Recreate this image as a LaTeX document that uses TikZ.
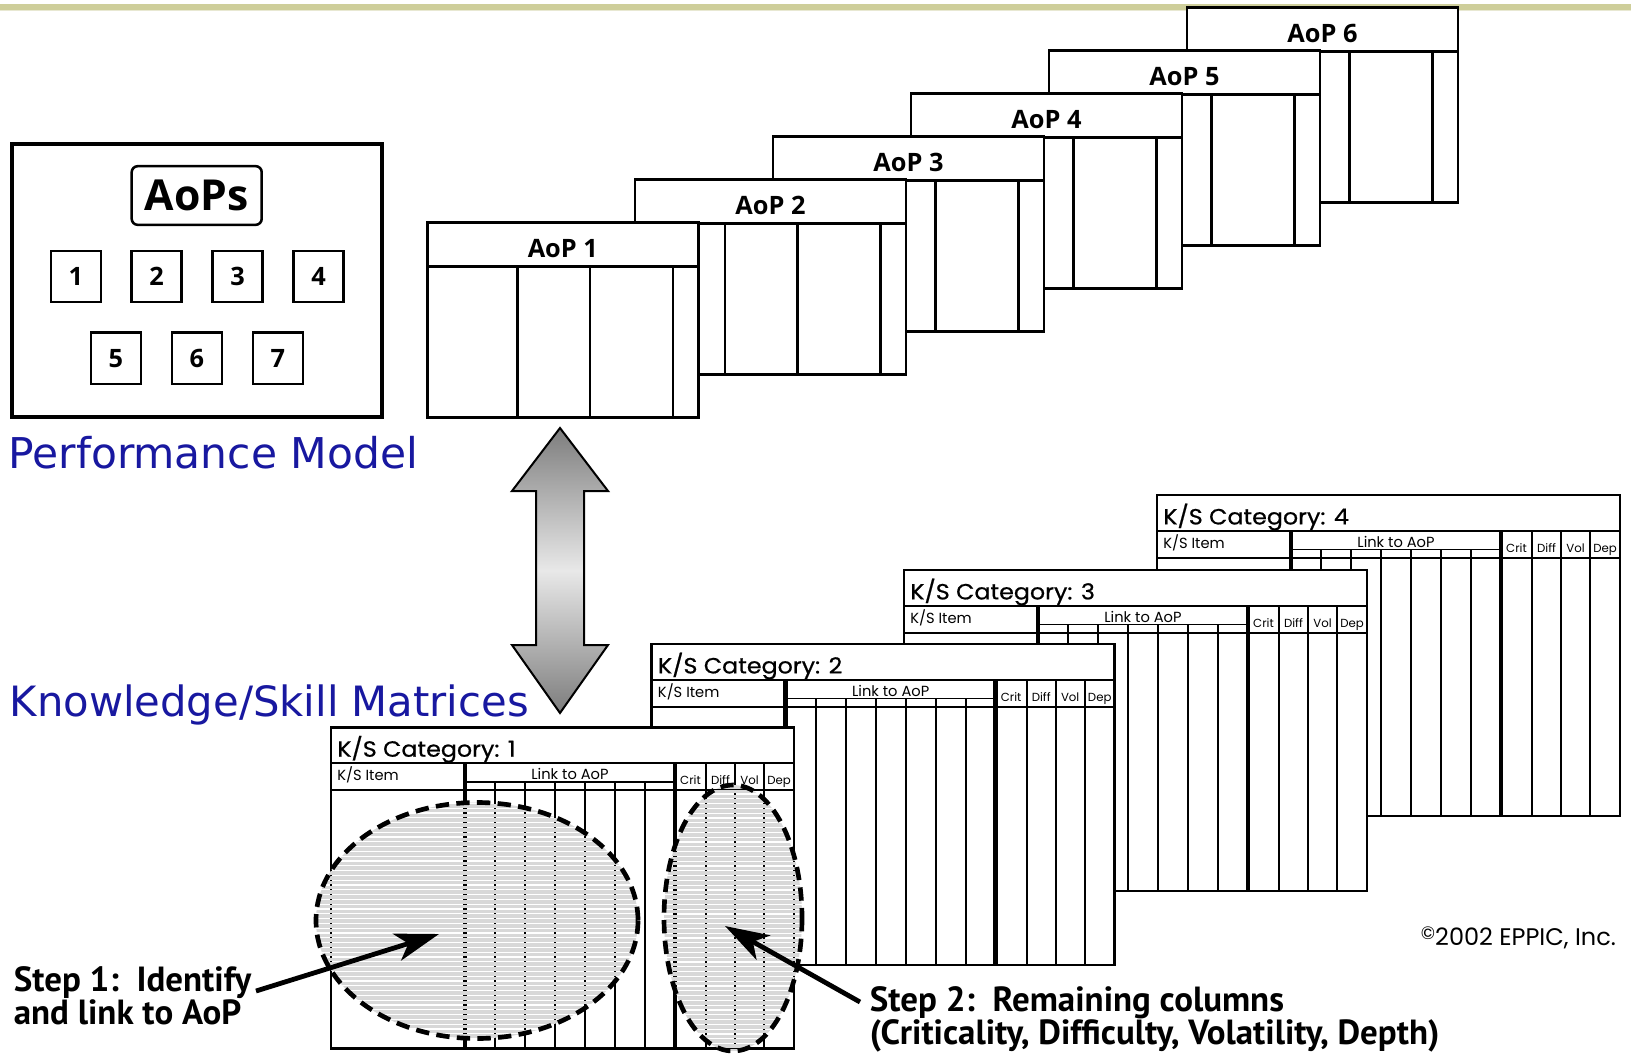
\documentclass[tikz,border=0pt]{standalone}
\usepackage{fontspec}
\setmainfont{Open Sans}
\newfontfamily\headfont{DejaVu Sans}
\newfontfamily\gridfont{Poppins}
\newfontfamily\gridtitlefont{Poppins}[FakeBold=0.7]
\newfontfamily\stepfont{PT Sans}
\usetikzlibrary{arrows.meta}

\definecolor{barolive}{RGB}{206,206,154}
\definecolor{barlight}{RGB}{232,232,210}
\definecolor{titleblue}{RGB}{24,24,160}
\definecolor{stripegray}{RGB}{216,216,216}
\definecolor{arrowdark}{RGB}{125,125,125}
\definecolor{arrowlight}{RGB}{232,232,232}

\tikzset{
  aopbox/.style={draw, fill=white, line width=2.2pt},
  aoprule/.style={line width=1.8pt},
  aoplabel/.style={inner sep=0pt, font=\bfseries\fontsize{19}{19}\selectfont},
  numbox/.style={draw, line width=1.8pt, minimum width=37.5pt, minimum height=38.5pt,
                 inner sep=0pt, font=\bfseries\fontsize{19}{19}\selectfont},
  gridframe/.style={line width=1.9pt},
  gridthin/.style={line width=1.4pt},
  gridthick/.style={line width=3.4pt},
  gridtitle/.style={inner sep=0pt, anchor=base west, font=\gridtitlefont\fontsize{16.5}{16.5}\selectfont},
  gridhead/.style={inner sep=0pt, font=\gridfont\fontsize{11}{11}\selectfont},
  gridsmall/.style={inner sep=0pt, anchor=base, font=\gridfont\fontsize{8.8}{8.8}\selectfont},
  bluetitle/.style={inner sep=0pt, anchor=base west, text=titleblue,
                    font=\headfont\fontsize{31.8}{31.8}\selectfont},
  steptext/.style={inner sep=0pt, anchor=base west, font=\stepfont\bfseries\fontsize{26.2}{26.2}\selectfont},
  stripe/.style={stripegray, line width=2.6pt},
  dashring/.style={line width=3.5pt, dash pattern=on 10pt off 5.5pt},
  callout/.style={line width=3.6pt, -{Stealth[length=33pt,width=21pt,inset=9pt]}},
}

% one "Area of Performance" sheet: left, top, number
\newcommand\aopsheet[3]{%
  \filldraw[aopbox] (#1,#2) rectangle ++(271,195);
  \draw[aoprule] (#1,#2+44) -- ++(271,0);
  \foreach \c in {90,162.5,245.5}
    \draw[aoprule] (#1+\c,#2+44) -- (#1+\c,#2+195);
  \node[aoplabel, anchor=base] (aop#3) at (#1+135.5,#2+35) {AoP #3};
}

% one knowledge/skill matrix: left, top, number
\newcommand\ksgrid[3]{%
  \fill[white] (#1,#2) rectangle ++(463,321);
  \draw[gridthin] (#1,#2+36) -- ++(463,0);
  \draw[gridthin] (#1,#2+63) -- ++(463,0);
  \draw[gridthin] (#1+134,#2+54.5) -- (#1+344,#2+54.5);
  \foreach \c in {164,194,224,254,284,314}
    \draw[gridthin] (#1+\c,#2+54.5) -- (#1+\c,#2+321);
  \foreach \c in {375,404,433}
    \draw[gridthin] (#1+\c,#2+36) -- (#1+\c,#2+321);
  \foreach \c in {134,344}
    \draw[gridthick] (#1+\c,#2+36) -- (#1+\c,#2+321);
  \draw[gridframe] (#1,#2) rectangle ++(463,321);
  \node[gridtitle] (ks#3title) at (#1+6,#2+29.4) {\scalebox{1.08}[1]{K/S Category: #3}};
  \node[gridhead, anchor=base west] (ks#3item) at (#1+6,#2+53.5) {K/S Item};
  \node[gridhead, anchor=base] (ks#3link) at (#1+239,#2+52.5) {Link to AoP};
  \node[gridsmall] (ks#3crit) at (#1+359.5,#2+57) {Crit};
  \node[gridsmall] (ks#3diff) at (#1+389.5,#2+57) {Diff};
  \node[gridsmall] (ks#3vol) at (#1+418.5,#2+57) {Vol};
  \node[gridsmall] (ks#3dep) at (#1+448,#2+57) {Dep};
}

\begin{document}
\begin{tikzpicture}[x=0.75pt,y=-0.75pt]
\useasboundingbox (0,0) rectangle (1631,1054);
\fill[white] (0,0) rectangle (1631,1054);

% banner rule along the top edge
\fill[barolive] (0,4) rectangle (1631,9.5);
\fill[barlight] (0,9.5) rectangle (1631,10.8);

% stack of AoP sheets, back to front
\aopsheet{1187}{7.3}{6}
\aopsheet{1049}{50.3}{5}
\aopsheet{911}{93.3}{4}
\aopsheet{773}{136.3}{3}
\aopsheet{635}{179.3}{2}
\aopsheet{427.3}{222.3}{1}

% performance model panel
\draw[line width=3pt] (11.7,144) rectangle (381.7,417.3);
\node[draw, line width=1.9pt, rounded corners=4.5pt, minimum width=97.5pt, minimum height=44pt,
      inner sep=0pt, font=\bfseries\fontsize{32}{32}\selectfont] (aops) at (196.7,195.5) {AoPs};
\node[numbox] (n1) at (75.9,276.5) {1};
\node[numbox] (n2) at (156.5,276.5) {2};
\node[numbox] (n3) at (237.5,276.5) {3};
\node[numbox] (n4) at (318.5,276.5) {4};
\node[numbox] (n5) at (115.9,358.3) {5};
\node[numbox] (n6) at (196.9,358.3) {6};
\node[numbox] (n7) at (277.9,358.3) {7};

\node[bluetitle] (pmodel) at (8.3,468) {Performance Model};
\node[bluetitle, font=\headfont\fontsize{31.3}{31.3}\selectfont] (ksmat) at (9.4,716.5) {Knowledge/Skill Matrices};

% two-way link between the model and the matrices
\draw[line width=1.5pt, top color=arrowdark, bottom color=arrowdark, middle color=arrowlight]
  (560,428) -- (608,491) -- (584,491) -- (584,645) -- (608,645) -- (560,713)
  -- (512,645) -- (536,645) -- (536,491) -- (512,491) -- cycle;

% knowledge/skill matrices, back to front
\ksgrid{1157}{495}{4}
\ksgrid{904}{570}{3}
\ksgrid{651.7}{644}{2}
\ksgrid{331}{727.3}{1}

% highlighted regions of the first matrix
\begin{scope}
  \clip (477,920.5) ellipse [x radius=161, y radius=118];
  \foreach \k in {0,...,52}
    \draw[stripe] (310,801+4.8*\k) -- (645,801+4.8*\k);
\end{scope}
\draw[dashring] (477,920.5) ellipse [x radius=161, y radius=118];

\begin{scope}
  \clip (733,918) ellipse [x radius=69, y radius=133];
  \foreach \k in {0,...,57}
    \draw[stripe] (660,782+4.8*\k) -- (806,782+4.8*\k);
\end{scope}
\draw[dashring] (733,918) ellipse [x radius=69, y radius=133];

% step call-outs
\node[steptext] (step1a) at (13.5,991.5) {Step 1:\ \ Identify};
\node[steptext] (step1b) at (13.5,1024.6) {and link to AoP};
\node[steptext] (step2a) at (869.6,1011) {Step 2:\ \ Remaining columns};
\node[steptext] (step2b) at (869.6,1044.6) {(Criticality, Difficulty, Volatility, Depth)};

\coordinate (s1tail) at (256,991);
\coordinate (s1tip) at (439,934);
\draw[callout] (s1tail) -- (s1tip);
\coordinate (s2tail) at (860,1002);
\coordinate (s2tip) at (725,926);
\draw[callout] (s2tail) -- (s2tip);

\node[inner sep=0pt, anchor=base west, font=\gridfont\fontsize{18}{18}\selectfont] (copy)
  at (1420.7,945) {{\fontsize{13.5}{13.5}\selectfont\raisebox{3.8pt}{©}}2002 EPPIC, Inc.};
\end{tikzpicture}
\end{document}
